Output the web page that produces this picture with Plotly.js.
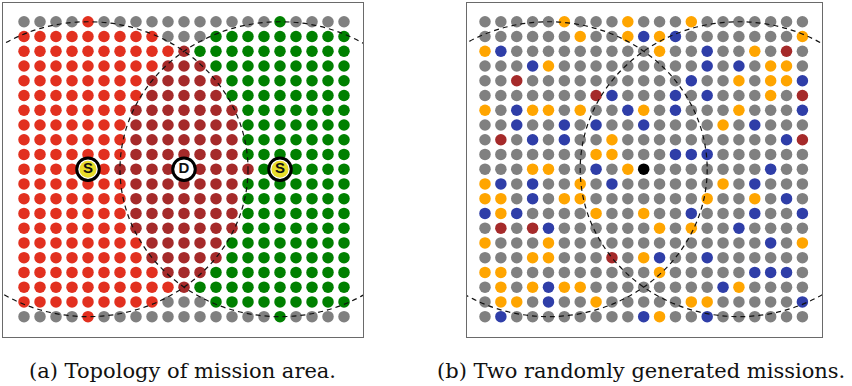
<!DOCTYPE html>
<html><head><meta charset="utf-8">
<script src="https://cdn.plot.ly/plotly-3.0.1.min.js"></script>
<style>html,body{margin:0;padding:0;background:#fff}#chart{width:852px;height:386px}</style>
</head><body><div id="chart"></div>
<script>
// Panel (a): '.' outside, 'R' left region, 'D' overlap, 'G' right region (rows top to bottom)
const topologyRows = [
  "....R...........G....",
  "RRRRRRRRR...GGGGGGGGG",
  "RRRRRRRRRRDGGGGGGGGGG",
  "RRRRRRRRRDDDGGGGGGGGG",
  "RRRRRRRRDDDDDGGGGGGGG",
  "RRRRRRRRDDDDDGGGGGGGG",
  "RRRRRRRDDDDDDDGGGGGGG",
  "RRRRRRRDDDDDDDGGGGGGG",
  "RRRRRRRDDDDDDDGGGGGGG",
  "RRRRRRRDDDDDDDGGGGGGG",
  "RRRRRRDDDDDDDDDGGGGGG",
  "RRRRRRRDDDDDDDGGGGGGG",
  "RRRRRRRDDDDDDDGGGGGGG",
  "RRRRRRRDDDDDDDGGGGGGG",
  "RRRRRRRDDDDDDDGGGGGGG",
  "RRRRRRRRDDDDDGGGGGGGG",
  "RRRRRRRRDDDDDGGGGGGGG",
  "RRRRRRRRRDDDGGGGGGGGG",
  "RRRRRRRRRRDGGGGGGGGGG",
  "RRRRRRRRR...GGGGGGGGG",
  "....R...........G...."
];
// Panel (b): '.' idle, 'O' orange, 'B' blue, 'D' dark red, 'K' black
const missionRows = [
  ".....O...O...O.......",
  "......O..OBOB.......O",
  "OB.........O..B..O.D.",
  "...BO.........B.B.OO.",
  "..D..........B..O.OOB",
  ".......DB...B.B...O.D",
  "O.BOO.O..BO.B...O...B",
  "..B..B.B..B....O.B...",
  ".D.B.B..O..........BD",
  ".......OO...BBB......",
  "...OO..B.OK.......B..",
  "OB.B..O.B......O.B...",
  "OO.B.OO.......O..O.B.",
  "BOB....O..O..B...B..B",
  ".D.DB......O.O..B....",
  "O...O.............B.O",
  "...OO...D.OB..B......",
  "OO.........O.....BBB.",
  ".O.OBOO........BO....",
  ".OO.B..O.....OO.....B",
  ".B........BO..B......"
];
const sourceCols = [4, 16];
const sourceRows = [10, 10];
const sourceLabels = ["S", "S"];
const destCols = [10];
const destRows = [10];
const destLabels = ["D"];
const circleCenterCols = [4, 16];
const circleCenterRows = [10, 10];
const circleRadius = 10;
const captions = ["(a) Topology of mission area.", "(b) Two randomly generated missions."];

const paletteA = {'.': '#808080', 'R': '#E2301F', 'D': '#A52A2A', 'G': '#008000'};
const paletteB = {'.': '#808080', 'O': '#FFA500', 'B': '#2F3EA8', 'D': '#A52A2A', 'K': '#000000'};

function dotTraces(rows, palette, xa, ya, size) {
  const out = [];
  Object.keys(palette).forEach(function (key) {
    const xs = [], ys = [];
    rows.forEach(function (row, r) {
      for (let c = 0; c < row.length; c++) {
        if (row[c] === key) { xs.push(c); ys.push(r); }
      }
    });
    out.push({type: 'scatter', mode: 'markers', x: xs, y: ys, xaxis: xa, yaxis: ya,
      hoverinfo: 'skip', showlegend: false,
      marker: {size: size, color: palette[key], line: {width: 0}}});
  });
  return out;
}

const traces = [].concat(
  dotTraces(topologyRows, paletteA, 'x', 'y', 11.5),
  dotTraces(missionRows, paletteB, 'x2', 'y2', 11.5)
);
// rings for S and D
traces.push({type: 'scatter', mode: 'markers', x: sourceCols.concat(destCols), y: sourceRows.concat(destRows),
  xaxis: 'x', yaxis: 'y', hoverinfo: 'skip', showlegend: false,
  marker: {size: 22.5, color: '#ffffff', line: {width: 3, color: '#000000'}}});
traces.push({type: 'scatter', mode: 'markers', x: sourceCols, y: sourceRows,
  xaxis: 'x', yaxis: 'y', hoverinfo: 'skip', showlegend: false,
  marker: {size: 17, color: '#E8DD2A', line: {width: 0}}});
traces.push({type: 'scatter', mode: 'text', x: sourceCols.concat(destCols), y: sourceRows.concat(destRows),
  text: sourceLabels.concat(destLabels).map(function (t) { return '<b>' + t + '</b>'; }),
  textposition: 'middle center', xaxis: 'x', yaxis: 'y', hoverinfo: 'skip', showlegend: false,
  textfont: {family: "Liberation Sans", size: 15, color: '#111111'}});

const shapes = [];
['x', 'x2'].forEach(function (xa, i) {
  const ya = i === 0 ? 'y' : 'y2';
  circleCenterCols.forEach(function (cx, k) {
    const cy = circleCenterRows[k];
    shapes.push({type: 'circle', xref: xa, yref: ya, layer: 'above',
      x0: cx - circleRadius, x1: cx + circleRadius, y0: cy - circleRadius, y1: cy + circleRadius,
      line: {color: '#111111', width: 1.2, dash: '5px,4px'}, fillcolor: 'rgba(0,0,0,0)'});
  });
});

const W = 852, H = 386;
function axisBase() {
  return {showline: true, mirror: true, linecolor: '#6a6a6a', linewidth: 1, showgrid: false,
    zeroline: false, showticklabels: false, ticks: '', fixedrange: true};
}
const yDomain = [1 - 337 / H, 1 - 3 / H];
const capFont = {family: 'DejaVu Serif', size: 21, color: '#111111'};
const layout = {
  width: W, height: H, margin: {l: 0, r: 0, t: 0, b: 0}, paper_bgcolor: '#ffffff', plot_bgcolor: '#ffffff',
  showlegend: false,
  xaxis: Object.assign(axisBase(), {domain: [3 / W, 363 / W], range: [-1.3125, 21.1875], anchor: 'y'}),
  yaxis: Object.assign(axisBase(), {domain: yDomain, range: [21.38, -1.27], anchor: 'x'}),
  xaxis2: Object.assign(axisBase(), {domain: [467 / W, 822 / W], range: [-1.134, 21.235], anchor: 'y2'}),
  yaxis2: Object.assign(axisBase(), {domain: yDomain, range: [21.38, -1.27], anchor: 'x2'}),
  shapes: shapes,
  annotations: [
    {text: captions[0], xref: 'paper', yref: 'paper', x: 182.5 / W, y: 1 - 371 / H, xanchor: 'center', yanchor: 'middle',
      showarrow: false, font: capFont},
    {text: captions[1], xref: 'paper', yref: 'paper', x: 640.5 / W, y: 1 - 371 / H, xanchor: 'center', yanchor: 'middle',
      showarrow: false, font: capFont}
  ]
};
Plotly.newPlot('chart', traces, layout, {staticPlot: true, displayModeBar: false});
</script>
</body></html>
